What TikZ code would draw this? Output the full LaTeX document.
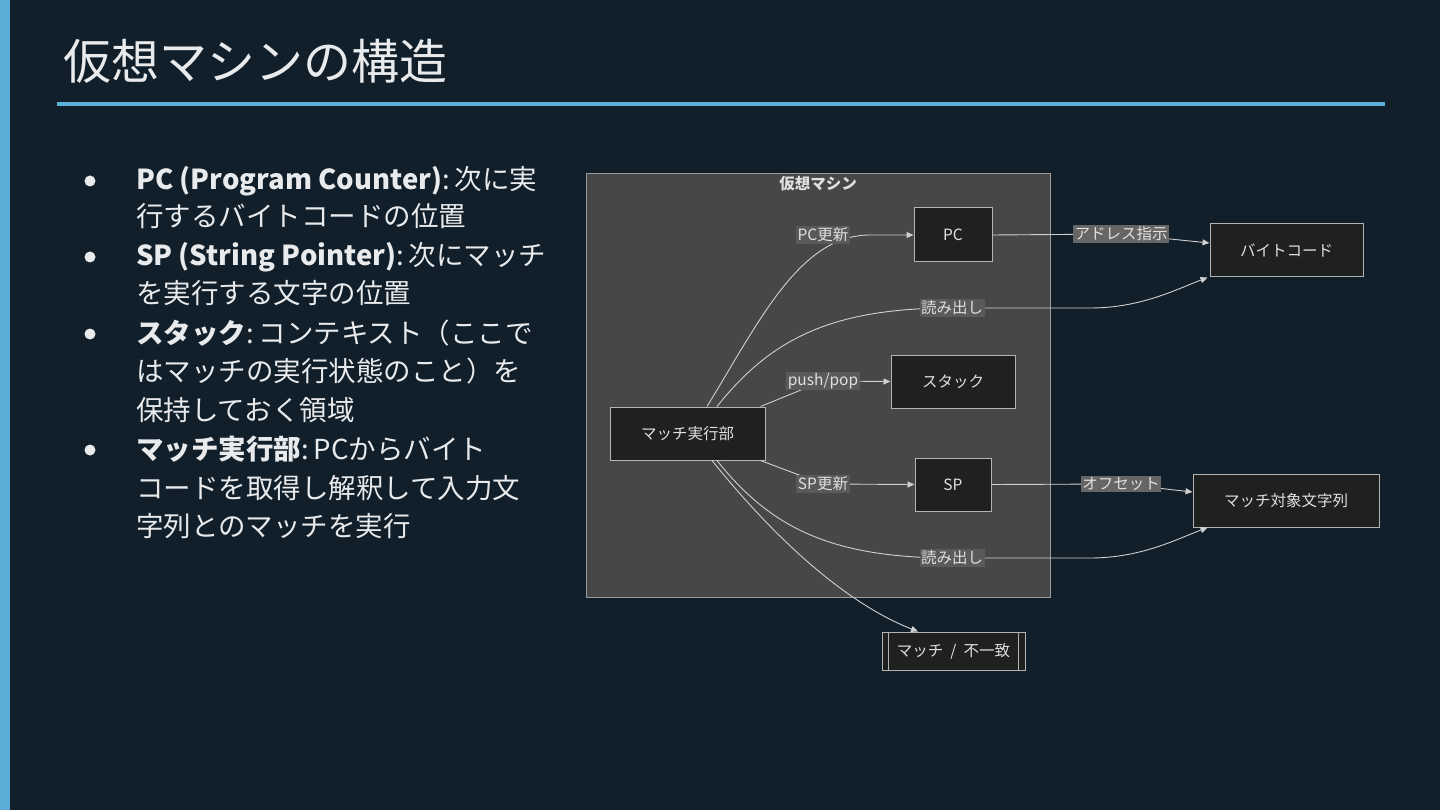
\documentclass[tikz,border=0pt]{standalone}
\usepackage{fontspec}
\setmainfont{Noto Sans CJK JP}
\usetikzlibrary{arrows.meta}
\definecolor{bg}{HTML}{111F2A}
\definecolor{accent}{HTML}{5AAED8}
\definecolor{txt}{HTML}{E8EAEC}
\definecolor{clfill}{HTML}{474747}
\definecolor{clborder}{HTML}{9A9A9A}
\definecolor{nfill}{HTML}{1F2020}
\definecolor{nborder}{HTML}{B4B4B4}
\definecolor{ntext}{HTML}{E0E0E0}
\definecolor{edgecol}{HTML}{D0D0D0}
\definecolor{lblin}{HTML}{5A5A5A}
\definecolor{lblout}{HTML}{666666}
\newcommand{\csp}{\hspace{0.18em}}
\tikzset{
  box/.style={draw=nborder, fill=nfill, line width=1pt, text=ntext, font=\fontsize{15.5}{18}\selectfont, inner sep=0pt},
  edge/.style={draw=edgecol, line width=0.9pt, -{Triangle[length=7pt,width=6pt]}},
  line/.style={draw=edgecol, line width=0.9pt},
  lbl/.style={fill=lblin, text=ntext, font=\fontsize{15.5}{18}\selectfont, inner sep=1.5pt},
  lblo/.style={fill=lblout, text=ntext, font=\fontsize{15.5}{18}\selectfont, inner sep=1.5pt},
  bline/.style={anchor=base west, text=txt, font=\fontsize{27.5}{33}\selectfont, inner sep=0pt},
  bdot/.style={fill=txt}
}
\begin{document}
\begin{tikzpicture}[x=1pt,y=-1pt]
\fill[bg] (0,0) rectangle (1440,810);
\useasboundingbox (0,0) rectangle (1440,810);
\fill[accent] (0,0) rectangle (10,810);
% title
\node[anchor=base west, text=txt, font=\fontsize{48}{56}\selectfont, inner sep=0pt] (title) at (63,80) {仮想マシンの構造};
\fill[accent] (57,102.5) rectangle (1385,106);
% bullets
\foreach \y in {181,257,334,450} { \fill[bdot] (90,\y) circle (5.5); }
\node[bline] (b1a) at (136,190) {\textbf{PC (Program Counter)}:\csp 次に実};
\node[bline] (b1b) at (136,227) {行するバイトコードの位置};
\node[bline] (b2a) at (136,266) {\textbf{SP (String Pointer)}:\csp 次にマッチ};
\node[bline] (b2b) at (136,304) {を実行する文字の位置};
\node[bline] (b3a) at (136,343) {\textbf{スタック}:\csp コンテキスト（ここで};
\node[bline] (b3b) at (136,381) {はマッチの実行状態のこと）を};
\node[bline] (b3c) at (136,420) {保持しておく領域};
\node[bline] (b4a) at (136,459) {\textbf{マッチ実行部}:\csp PCからバイト};
\node[bline] (b4b) at (136,498) {コードを取得し解釈して入力文};
\node[bline] (b4c) at (136,536) {字列とのマッチを実行};
% cluster
\draw[fill=clfill, draw=clborder, line width=1pt] (586,174) rectangle (1050,597);
\node[text=ntext, font=\bfseries\fontsize{15.5}{18}\selectfont, inner sep=0pt] (cltitle) at (818,184) {仮想マシン};
% nodes
\node[box, minimum width=78pt, minimum height=54pt] (pc) at (953,235) {PC};
\node[box, minimum width=153pt, minimum height=53pt] (bc) at (1286.5,250.5) {バイトコード};
\node[box, minimum width=124pt, minimum height=53pt] (st) at (953,381.5) {スタック};
\node[box, minimum width=155pt, minimum height=53pt] (mx) at (687.5,433.5) {マッチ実行部};
\node[box, minimum width=76pt, minimum height=53pt] (sp) at (953,484.5) {SP};
\node[box, minimum width=186pt, minimum height=53pt] (tgt) at (1286,500.5) {マッチ対象文字列};
\node[box, minimum width=143pt, minimum height=38pt] (res) at (953.5,651) {マッチ\hspace{0.45em}/\hspace{0.45em}不一致};
\draw[draw=nborder, line width=1pt] ([xshift=7pt]res.north west) -- ([xshift=7pt]res.south west);
\draw[draw=nborder, line width=1pt] ([xshift=-7pt]res.north east) -- ([xshift=-7pt]res.south east);
% label positions
\coordinate (c1) at (823,235);
\coordinate (c2) at (952,308);
\coordinate (c3) at (823,381);
\coordinate (c4) at (823,484);
\coordinate (c5) at (952,558);
\coordinate (c6) at (1121,234);
\coordinate (c7) at (1121,484);
% edges
\draw[edge] ([xshift=19.5pt]mx.north) .. controls (760,320) and (800,235) .. (870,235) -- (pc.west);
\draw[edge] ([xshift=29.5pt]mx.north) .. controls (770,340) and (830,308) .. (c2) -- (1090,308) .. controls (1140,308) and (1175,290) .. ([xshift=-2pt]bc.south west);
\draw[line] ([xshift=-5pt]mx.north east) -- (c3);
\draw[edge] (c3) -- (st.west);
\draw[line] ([xshift=-5pt]mx.south east) -- (c4);
\draw[edge] (c4) -- (sp.west);
\draw[edge] ([xshift=29.5pt]mx.south) .. controls (770,527) and (830,558) .. (c5) -- (1090,558) .. controls (1140,558) and (1175,540) .. ([xshift=15pt]tgt.south west);
\draw[edge] ([xshift=24.5pt]mx.south) .. controls (780,545) and (850,605) .. ([xshift=-35.5pt]res.north);
\draw[line] (pc.east) -- (c6);
\draw[edge] (c6) -- ([yshift=7.5pt]bc.west);
\draw[line] (sp.east) -- (c7);
\draw[edge] (c7) -- ([yshift=8.5pt]tgt.west);
% labels
\node[lbl] (l1) at (c1) {PC更新};
\node[lbl] (l2) at (c2) {読み出し};
\node[lbl] (l3) at (c3) {push/pop};
\node[lbl] (l4) at (c4) {SP更新};
\node[lbl] (l5) at (c5) {読み出し};
\node[lblo] (l6) at (c6) {アドレス指示};
\node[lblo] (l7) at (c7) {オフセット};
\end{tikzpicture}
\end{document}
